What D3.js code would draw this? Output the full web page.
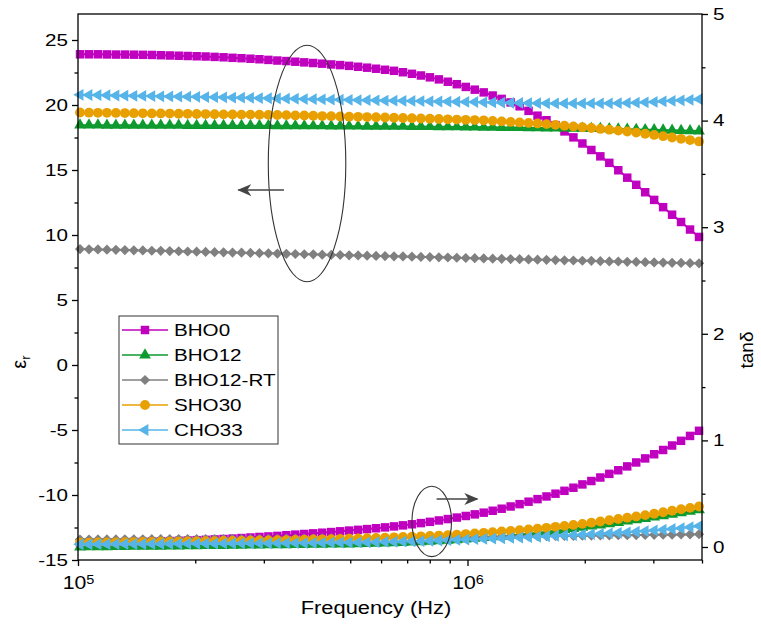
<!DOCTYPE html>
<html>
<head>
<meta charset="utf-8">
<title>Dielectric constant and loss</title>
<script src="https://d3js.org/d3.v7.min.js"></script>
<style>
    body { margin: 0; background: #fff; }
    svg text { font-family: "Liberation Sans", Arial, sans-serif; fill: #000; }
</style>
</head>
<body>
<svg id="chart"></svg>
<script>
    // sample names, colours
    const names = ["BHO0", "BHO12", "BHO12-RT", "SHO30", "CHO33"];
    const colors = ["#BF00BF", "#0E9A2E", "#808080", "#E8A000", "#56B4E9"];

    // frequency sweep: 70 log-spaced points
    const nPts = 70;
    const fFirst = 1.012e5, fLast = 3.93e6;
    const freq = d3.range(nPts).map(i => fFirst * Math.pow(fLast / fFirst, i / (nPts - 1)));

    // dielectric constant (left axis)
    const epsBHO0 = [23.90,23.90,23.90,23.89,23.88,23.88,23.87,23.86,23.85,23.83,
        23.81,23.79,23.77,23.75,23.73,23.70,23.67,23.63,23.60,23.56,
        23.52,23.47,23.42,23.38,23.33,23.28,23.23,23.18,23.12,23.07,
        23.01,22.94,22.87,22.79,22.71,22.63,22.52,22.40,22.27,22.13,
        21.97,21.79,21.60,21.39,21.18,20.97,20.73,20.47,20.20,19.90,
        19.55,19.18,18.83,18.45,17.97,17.51,17.04,16.54,16.05,15.55,
        14.98,14.41,13.86,13.29,12.70,12.14,11.56,11.00,10.42,9.85];
    const epsBHO12 = [18.45,18.45,18.45,18.44,18.44,18.44,18.44,18.43,18.43,18.43,
        18.43,18.43,18.42,18.42,18.42,18.42,18.42,18.41,18.41,18.41,
        18.41,18.41,18.40,18.40,18.40,18.40,18.39,18.39,18.38,18.38,
        18.37,18.37,18.36,18.36,18.36,18.35,18.35,18.34,18.34,18.33,
        18.32,18.32,18.31,18.30,18.30,18.29,18.28,18.27,18.26,18.26,
        18.25,18.24,18.23,18.22,18.22,18.21,18.20,18.19,18.18,18.17,
        18.15,18.14,18.12,18.10,18.09,18.07,18.05,18.04,18.02,18.00];
    const epsBHO12RT = [8.92,8.90,8.89,8.87,8.86,8.84,8.82,8.81,8.79,8.78,
        8.76,8.75,8.73,8.72,8.70,8.68,8.67,8.65,8.64,8.62,
        8.60,8.59,8.57,8.55,8.54,8.52,8.51,8.49,8.47,8.46,
        8.44,8.43,8.41,8.39,8.38,8.36,8.35,8.33,8.31,8.30,
        8.28,8.27,8.25,8.23,8.22,8.20,8.18,8.17,8.15,8.14,
        8.12,8.10,8.09,8.07,8.05,8.04,8.02,8.01,7.99,7.97,
        7.96,7.94,7.93,7.91,7.89,7.88,7.86,7.85,7.83,7.82];
    const epsSHO30 = [19.42,19.41,19.40,19.40,19.39,19.38,19.37,19.36,19.35,19.35,
        19.34,19.33,19.32,19.31,19.30,19.29,19.28,19.27,19.26,19.26,
        19.25,19.24,19.23,19.22,19.20,19.19,19.17,19.15,19.14,19.12,
        19.10,19.09,19.07,19.06,19.04,19.02,19.00,18.98,18.96,18.94,
        18.92,18.90,18.88,18.86,18.84,18.82,18.78,18.74,18.70,18.66,
        18.62,18.58,18.53,18.47,18.41,18.35,18.29,18.23,18.16,18.10,
        18.03,17.96,17.88,17.79,17.70,17.60,17.50,17.40,17.30,17.20];
    const epsCHO33 = [20.78,20.77,20.76,20.75,20.73,20.72,20.71,20.70,20.69,20.67,
        20.66,20.65,20.64,20.63,20.61,20.60,20.59,20.57,20.56,20.55,
        20.53,20.52,20.50,20.49,20.48,20.46,20.45,20.44,20.42,20.41,
        20.40,20.38,20.37,20.36,20.34,20.33,20.32,20.31,20.30,20.28,
        20.27,20.26,20.25,20.24,20.23,20.21,20.20,20.19,20.17,20.16,
        20.15,20.14,20.13,20.12,20.12,20.12,20.12,20.12,20.12,20.13,
        20.14,20.16,20.18,20.21,20.24,20.28,20.32,20.36,20.40,20.45];

    // loss tangent (right axis)
    const tanBHO0 = [0.040,0.041,0.042,0.043,0.044,0.046,0.047,0.049,0.051,0.053,
        0.055,0.058,0.061,0.064,0.067,0.071,0.075,0.079,0.084,0.089,
        0.094,0.099,0.104,0.110,0.116,0.122,0.128,0.134,0.140,0.147,
        0.154,0.161,0.168,0.176,0.184,0.193,0.203,0.213,0.224,0.236,
        0.249,0.262,0.276,0.291,0.306,0.322,0.340,0.359,0.380,0.402,
        0.425,0.449,0.474,0.500,0.527,0.556,0.587,0.619,0.652,0.686,
        0.720,0.756,0.793,0.831,0.870,0.910,0.952,0.996,1.042,1.090];
    const tanBHO12 = [0.000,0.001,0.002,0.002,0.003,0.004,0.005,0.005,0.006,0.007,
        0.008,0.009,0.010,0.011,0.012,0.013,0.014,0.015,0.016,0.017,
        0.018,0.019,0.020,0.021,0.022,0.023,0.024,0.025,0.026,0.027,
        0.028,0.030,0.032,0.034,0.036,0.039,0.042,0.045,0.049,0.053,
        0.058,0.063,0.068,0.074,0.080,0.087,0.094,0.101,0.109,0.117,
        0.125,0.134,0.143,0.153,0.163,0.173,0.184,0.195,0.206,0.218,
        0.230,0.242,0.254,0.267,0.280,0.293,0.306,0.320,0.334,0.348];
    const tanBHO12RT = [0.070,0.070,0.071,0.071,0.071,0.072,0.072,0.072,0.073,0.073,
        0.073,0.074,0.074,0.074,0.075,0.075,0.075,0.076,0.076,0.076,
        0.077,0.077,0.077,0.078,0.078,0.079,0.079,0.080,0.080,0.081,
        0.081,0.082,0.082,0.083,0.084,0.085,0.086,0.087,0.088,0.089,
        0.090,0.091,0.092,0.093,0.094,0.095,0.096,0.097,0.098,0.099,
        0.100,0.101,0.102,0.103,0.104,0.105,0.106,0.107,0.108,0.109,
        0.110,0.111,0.112,0.113,0.114,0.115,0.116,0.117,0.118,0.120];
    const tanSHO30 = [0.040,0.041,0.042,0.043,0.044,0.045,0.046,0.047,0.048,0.049,
        0.050,0.051,0.052,0.053,0.054,0.055,0.056,0.057,0.058,0.060,
        0.061,0.062,0.064,0.065,0.067,0.068,0.070,0.072,0.074,0.076,
        0.078,0.080,0.082,0.085,0.088,0.091,0.094,0.097,0.100,0.103,
        0.107,0.111,0.116,0.121,0.127,0.133,0.139,0.145,0.151,0.158,
        0.165,0.172,0.180,0.189,0.198,0.207,0.217,0.228,0.239,0.251,
        0.263,0.275,0.287,0.299,0.312,0.326,0.340,0.354,0.367,0.380];
    const tanCHO33 = [0.025,0.025,0.026,0.026,0.027,0.027,0.028,0.028,0.029,0.029,
        0.030,0.030,0.031,0.031,0.032,0.032,0.033,0.033,0.034,0.034,
        0.035,0.035,0.036,0.036,0.037,0.037,0.038,0.039,0.040,0.041,
        0.042,0.043,0.044,0.045,0.047,0.049,0.051,0.053,0.055,0.058,
        0.061,0.064,0.067,0.070,0.073,0.076,0.079,0.082,0.085,0.088,
        0.092,0.096,0.100,0.104,0.108,0.112,0.116,0.120,0.124,0.128,
        0.133,0.138,0.143,0.149,0.155,0.162,0.169,0.177,0.186,0.196];

    // tick values
    const leftMajor = [-15, -10, -5, 0, 5, 10, 15, 20, 25];
    const leftMinor = [-12.5, -7.5, -2.5, 2.5, 7.5, 12.5, 17.5, 22.5];
    const rightMajor = [0, 1, 2, 3, 4, 5];
    const rightMinor = [0.5, 1.5, 2.5, 3.5, 4.5];
    const bottomMajor = [1e5, 1e6];
    const bottomMinor = [2e5, 3e5, 4e5, 5e5, 6e5, 7e5, 8e5, 9e5, 2e6, 3e6, 4e6];

    const epsSeries = [epsBHO0, epsBHO12, epsBHO12RT, epsSHO30, epsCHO33];
    const tanSeries = [tanBHO0, tanBHO12, tanBHO12RT, tanSHO30, tanCHO33];

    // chart dimensions
    const width = 761, height = 628;
    const margin = { top: 14, right: 59, bottom: 68, left: 78 };
    const x0 = margin.left, x1 = width - margin.right;
    const y0 = height - margin.bottom, y1 = margin.top;
    const sx = 1.25; // text in the original is a bit wide

    const svg = d3.select("#chart").attr("width", width).attr("height", height);

    // scales
    const x = d3.scaleLog().domain([1e5, 4e6]).range([x0, x1]);
    const yL = d3.scaleLinear().domain([-15, 27]).range([y0, y1]);
    const yR = d3.scaleLinear().domain([-0.122, 5]).range([y0, y1]);

    // marker shapes
    const sym = [
        { type: d3.symbolSquare, size: 72, rot: 0 },
        { type: d3.symbolTriangle, size: 60, rot: 0 },
        { type: d3.symbolSquare, size: 52, rot: 45 },
        { type: d3.symbolCircle, size: 76, rot: 0 },
        { type: d3.symbolTriangle, size: 60, rot: -90 }
    ];

    function drawSeries(values, yScale, k) {
        const g = svg.append("g");
        g.append("path")
            .datum(values)
            .attr("fill", "none")
            .attr("stroke", colors[k])
            .attr("stroke-width", 2)
            .attr("d", d3.line().x((d, i) => x(freq[i])).y(d => yScale(d)));
        g.selectAll("path.m")
            .data(values)
            .join("path")
            .attr("class", "m")
            .attr("fill", colors[k])
            .attr("transform", (d, i) => `translate(${x(freq[i])},${yScale(d)}) rotate(${sym[k].rot})`)
            .attr("d", d3.symbol(sym[k].type, sym[k].size)());
    }

    epsSeries.forEach((s, k) => drawSeries(s, yL, k));
    tanSeries.forEach((s, k) => drawSeries(s, yR, k));

    // frame
    svg.append("rect")
        .attr("x", x0).attr("y", y1)
        .attr("width", x1 - x0).attr("height", y0 - y1)
        .attr("fill", "none").attr("stroke", "#000").attr("stroke-width", 1.3);

    function styleAxis(g) {
        g.select(".domain").remove();
        g.selectAll("line").attr("stroke", "#000").attr("stroke-width", 1.3);
        g.attr("font-family", "Liberation Sans, Arial, sans-serif");
    }

    // left axis
    const gL = svg.append("g").attr("transform", `translate(${x0},0)`);
    gL.call(d3.axisLeft(yL).tickValues(leftMajor).tickSize(6).tickFormat(d => String(d)))
        .call(styleAxis)
        .attr("font-size", 16.5);
    gL.selectAll(".tick text").attr("transform", `scale(${sx},1)`).attr("x", -10 / sx);
    svg.append("g").attr("transform", `translate(${x0},0)`)
        .call(d3.axisLeft(yL).tickValues(leftMinor).tickSize(3.5).tickFormat(""))
        .call(styleAxis);

    // right axis
    const gR = svg.append("g").attr("transform", `translate(${x1},0)`);
    gR.call(d3.axisRight(yR).tickValues(rightMajor).tickSize(6).tickFormat(d => String(d)))
        .call(styleAxis)
        .attr("font-size", 16.5);
    gR.selectAll(".tick text").attr("transform", `scale(${sx},1)`).attr("x", 11 / sx);
    svg.append("g").attr("transform", `translate(${x1},0)`)
        .call(d3.axisRight(yR).tickValues(rightMinor).tickSize(3.5).tickFormat(""))
        .call(styleAxis);

    // bottom axis
    const gB = svg.append("g").attr("transform", `translate(0,${y0})`);
    gB.call(d3.axisBottom(x).tickValues(bottomMajor).tickSize(6).tickPadding(10).tickFormat(""))
        .call(styleAxis)
        .attr("font-size", 19);
    gB.selectAll(".tick text").each(function (d) {
        const t = d3.select(this).attr("transform", `scale(1.12,1)`);
        t.append("tspan").text("10");
        t.append("tspan").attr("dy", "-0.45em").attr("font-size", "0.68em").text(Math.round(Math.log10(d)));
    });
    svg.append("g").attr("transform", `translate(0,${y0})`)
        .call(d3.axisBottom(x).tickValues(bottomMinor).tickSize(3.5).tickFormat(""))
        .call(styleAxis);

    // axis titles
    svg.append("text")
        .attr("transform", `translate(376,614) scale(1.15,1)`)
        .attr("text-anchor", "middle")
        .attr("font-size", 19)
        .text("Frequency (Hz)");

    const epsLabel = svg.append("text")
        .attr("transform", `translate(26,362) rotate(-90)`)
        .attr("text-anchor", "middle")
        .attr("font-size", 20);
    epsLabel.append("tspan").text("ε");
    epsLabel.append("tspan").attr("dy", "0.3em").attr("font-size", "0.65em").text("r");

    svg.append("text")
        .attr("transform", `translate(753,350) rotate(-90)`)
        .attr("text-anchor", "middle")
        .attr("font-size", 19)
        .text("tanδ");

    // legend
    const legend = svg.append("g").attr("transform", "translate(119,316)");
    legend.append("rect")
        .attr("width", 159).attr("height", 128)
        .attr("fill", "#fff").attr("stroke", "#333").attr("stroke-width", 1);
    names.forEach((n, k) => {
        const row = legend.append("g").attr("transform", `translate(0,${14 + 25 * k})`);
        row.append("line").attr("x1", 3).attr("x2", 49)
            .attr("stroke", colors[k]).attr("stroke-width", 1.5);
        row.append("path")
            .attr("transform", `translate(26,0) rotate(${sym[k].rot})`)
            .attr("fill", colors[k])
            .attr("d", d3.symbol(sym[k].type, sym[k].size)());
        row.append("text")
            .attr("transform", `translate(55,6) scale(${sx},1)`)
            .attr("font-size", 16.5)
            .text(n);
    });

    // annotation ellipses and arrows (positions in data units)
    const ellipses = [
        { f0: 3.08e5, f1: 4.87e5, v0: 6.4, v1: 24.6, y: yL },
        { f0: 7.2e5, f1: 9.1e5, v0: -0.09, v1: 0.57, y: yR }
    ];
    const arrows = [
        { f0: 3.38e5, f1: 2.58e5, v: 13.46, y: yL },
        { f0: 8.33e5, f1: 1.06e6, v: 0.45, y: yR }
    ];

    svg.append("defs").append("marker")
        .attr("id", "arrowhead")
        .attr("viewBox", "0 0 14 12")
        .attr("refX", 13).attr("refY", 6)
        .attr("markerWidth", 14).attr("markerHeight", 12)
        .attr("markerUnits", "userSpaceOnUse")
        .attr("orient", "auto")
        .append("path")
        .attr("d", "M0,0 L14,6 L0,12 L4,6 Z")
        .attr("fill", "#444");

    ellipses.forEach(e => {
        svg.append("ellipse")
            .attr("cx", (x(e.f0) + x(e.f1)) / 2)
            .attr("cy", (e.y(e.v0) + e.y(e.v1)) / 2)
            .attr("rx", (x(e.f1) - x(e.f0)) / 2)
            .attr("ry", (e.y(e.v0) - e.y(e.v1)) / 2)
            .attr("fill", "none").attr("stroke", "#333").attr("stroke-width", 1.1);
    });
    arrows.forEach(a => {
        svg.append("line")
            .attr("x1", x(a.f0)).attr("x2", x(a.f1))
            .attr("y1", a.y(a.v)).attr("y2", a.y(a.v))
            .attr("stroke", "#444").attr("stroke-width", 1.5)
            .attr("marker-end", "url(#arrowhead)");
    });
</script>
</body>
</html>
